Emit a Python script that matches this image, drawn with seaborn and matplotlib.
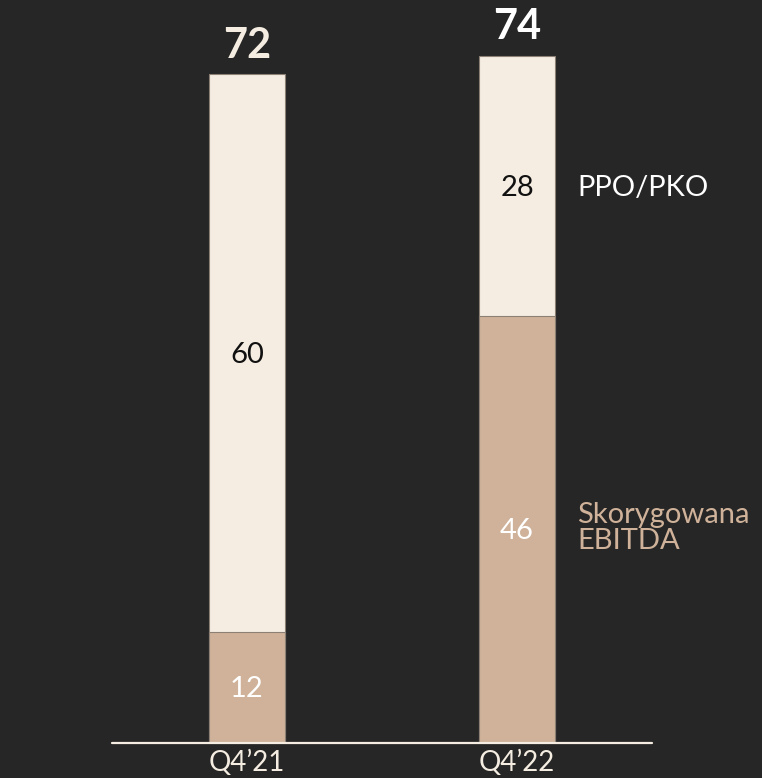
import matplotlib
matplotlib.use("Agg")
import matplotlib.pyplot as plt
import seaborn as sns
import pandas as pd

quarters = ["Q4\u201921", "Q4\u201922"]
ebitda = [12, 46]
ppo_pko = [60, 28]
totals = [a + b for a, b in zip(ebitda, ppo_pko)]
series_names = ["PPO/PKO", "Skorygowana\nEBITDA"]

BG = "#262626"
CREAM = "#F5EDE1"
TAN = "#CFB299"
EDGE = "#8C8075"

sns.set_theme(style="white")
plt.rcParams["font.family"] = ["Lato", "DejaVu Sans"]

df = pd.DataFrame({"quarter": quarters, "ebitda": ebitda, "ppo": ppo_pko, "total": totals})

fig = plt.figure(figsize=(7.62, 7.78), dpi=100, facecolor=BG)
ax = fig.add_axes([112 / 762, 35 / 778, 540 / 762, 743 / 778])
ax.set_facecolor(BG)

sns.barplot(data=df, x="quarter", y="total", color=CREAM, width=0.28,
            edgecolor=EDGE, linewidth=0.8, saturation=1, ax=ax)
sns.barplot(data=df, x="quarter", y="ebitda", color=TAN, width=0.28,
            edgecolor=EDGE, linewidth=0.8, saturation=1, ax=ax)

ax.set_xlim(-0.5, 1.5)
ax.set_ylim(0, 80)
for s in ax.spines.values():
    s.set_visible(False)
ax.axhline(0, color=CREAM, linewidth=1.6, zorder=5, clip_on=False)
ax.set_yticks([])
ax.set_xlabel("")
ax.set_ylabel("")
ax.tick_params(axis="x", length=0, pad=5, labelsize=20, labelcolor=CREAM)
for lbl in ax.get_xticklabels():
    lbl.set_fontweight("normal")

# segment labels
for i in range(len(quarters)):
    ax.text(i, ebitda[i] / 2 - 0.2, str(ebitda[i]), ha="center", va="center",
            color="white", fontsize=21, fontweight="normal")
    ax.text(i, ebitda[i] + ppo_pko[i] / 2 - 0.2, str(ppo_pko[i]), ha="center", va="center",
            color="#111111", fontsize=21, fontweight="normal")

# totals
total_colors = [CREAM, "white"]
for i in range(len(quarters)):
    ax.text(i, totals[i] + 1.0, str(totals[i]), ha="center", va="bottom",
            color=total_colors[i], fontsize=30, fontweight="bold")

# series labels at right
last = len(quarters) - 1
ax.text(1.223, ebitda[last] + ppo_pko[last] / 2 - 0.2, series_names[0], ha="left", va="center",
        color="white", fontsize=21, fontweight="normal", clip_on=False)
ax.text(1.223, ebitda[last] / 2 + 0.2, series_names[1], ha="left", va="center",
        color=TAN, fontsize=21, fontweight="normal", linespacing=1.0, clip_on=False)

fig.savefig("out.png", dpi=100, facecolor=BG)
